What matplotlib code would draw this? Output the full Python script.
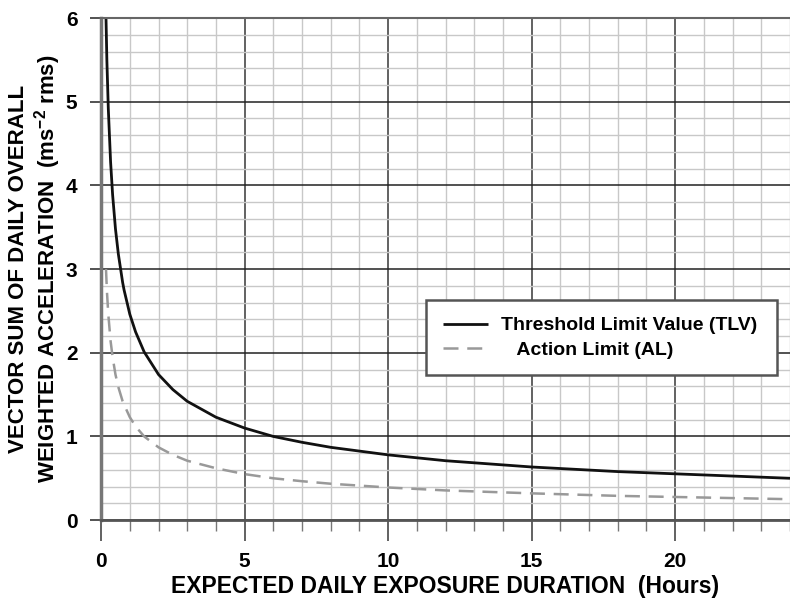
import matplotlib

matplotlib.use("Agg")
import matplotlib.pyplot as plt  # noqa: E402
from matplotlib.ticker import MultipleLocator  # noqa: E402

plt.rcParams["font.family"] = ["Liberation Sans", "DejaVu Sans"]
plt.rcParams["font.weight"] = "bold"
plt.rcParams["axes.labelweight"] = "bold"
plt.rcParams["mathtext.fontset"] = "custom"
plt.rcParams["mathtext.rm"] = "Liberation Sans"
plt.rcParams["mathtext.default"] = "rm"

# values
hours_tlv = [0.17, 0.2, 0.25, 0.33, 0.4, 0.5, 0.6, 0.75, 0.8, 1.0, 1.2, 1.5, 2.0, 2.5,
             3.0, 4.0, 5.0, 6.0, 7.0, 8.0, 10.0, 12.0, 15.0, 18.0, 21.0, 24.0]
tlv = [6.0, 5.5, 4.92, 4.28, 3.89, 3.48, 3.18, 2.84, 2.75, 2.46, 2.25, 2.01, 1.74, 1.56,
       1.42, 1.23, 1.10, 1.0, 0.93, 0.87, 0.78, 0.71, 0.635, 0.58, 0.54, 0.50]
hours_al = [0.17, 0.2, 0.25, 0.33, 0.4, 0.5, 0.6, 0.75, 0.8, 1.0, 1.2, 1.5, 2.0, 2.5,
            3.0, 4.0, 5.0, 6.0, 7.0, 8.0, 10.0, 12.0, 15.0, 18.0, 21.0, 24.0]
al = [3.0, 2.75, 2.46, 2.14, 1.95, 1.74, 1.59, 1.42, 1.38, 1.23, 1.12, 1.0, 0.87, 0.78,
      0.71, 0.62, 0.55, 0.50, 0.465, 0.435, 0.39, 0.355, 0.32, 0.29, 0.27, 0.25]

fig = plt.figure(figsize=(7.9, 6.02), dpi=100)
ax = fig.add_axes([0.128, 0.136, 0.872, 0.834])

ax.set_xlim(0, 24)
ax.set_ylim(0, 6)
ax.xaxis.set_major_locator(MultipleLocator(5))
ax.xaxis.set_minor_locator(MultipleLocator(1))
ax.yaxis.set_major_locator(MultipleLocator(1))
ax.yaxis.set_minor_locator(MultipleLocator(0.2))

ax.grid(which="minor", color="#c8c8c8", lw=1.0)
ax.grid(which="major", axis="x", color="#555555", lw=1.3)
ax.grid(which="major", axis="y", color="#222222", lw=1.1)
ax.set_axisbelow(True)

ax.spines["right"].set_visible(False)
ax.spines["top"].set_color("#666666")
ax.spines["top"].set_linewidth(1.5)
ax.spines["left"].set_color("#777777")
ax.spines["left"].set_linewidth(2.5)
ax.spines["bottom"].set_color("#555555")
ax.spines["bottom"].set_linewidth(2.0)

ax.tick_params(axis="y", which="major", length=8, width=1.3, color="#444444",
               labelsize=15, pad=9)
ax.tick_params(axis="y", which="minor", length=0)
ax.tick_params(axis="x", which="major", length=15, width=1.3, color="#555555",
               labelsize=15, pad=8)
ax.tick_params(axis="x", which="minor", length=8, width=1.0, color="#777777")

ax.plot(hours_tlv, tlv, color="#111111", lw=2.0, label="Threshold Limit Value (TLV)",
        solid_capstyle="butt", clip_on=False)
ax.plot(hours_al, al, color="#999999", lw=1.8, dashes=(6, 3.5),
        label="   Action Limit (AL)")

leg = ax.legend(loc="upper left", bbox_to_anchor=(0.472, 0.283, 0.509, 0.155),
                mode="expand", fontsize=14, frameon=True, fancybox=False,
                borderpad=0.85, borderaxespad=0, handlelength=2.3,
                handletextpad=0.7, labelspacing=0.35)
leg.get_frame().set_edgecolor("#555555")
leg.get_frame().set_linewidth(1.8)
leg.get_frame().set_alpha(1.0)

ax.set_xlabel("EXPECTED DAILY EXPOSURE DURATION  (Hours)", fontsize=16.5, labelpad=3)
ax.set_ylabel("VECTOR SUM OF DAILY OVERALL\nWEIGHTED ACCELERATION  (ms$^{-2}$ rms)",
              fontsize=16, linespacing=1.15)
ax.yaxis.set_label_coords(-0.055, 0.5)

fig.savefig("out.png", dpi=100)
